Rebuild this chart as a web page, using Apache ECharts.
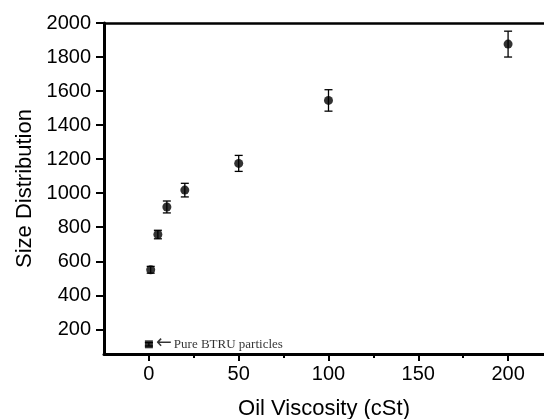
<!DOCTYPE html>
<html><head><meta charset="utf-8">
<script src="https://cdn.jsdelivr.net/npm/echarts@6/dist/echarts.min.js"></script>
<style>html,body{margin:0;padding:0;background:#fff}#c{width:544px;height:419px}</style>
</head><body><div id="c"></div>
<script>
const viscosity = [1, 5, 10, 20, 50, 100, 200];
const sizeDist = [550, 757, 919, 1018, 1175, 1545, 1876];
const sizeErr = [20, 25, 35, 40, 47, 63, 76];
const pureX = [0];
const pureY = [112];
const pureErr = [10];
const pureLabel = 'Pure BTRU particles';
const xTicks = [0, 50, 100, 150, 200];
const xMinorTicks = [25, 75, 125, 175];
const yTicks = [200, 400, 600, 800, 1000, 1200, 1400, 1600, 1800, 2000];

const chart = echarts.init(document.getElementById('c'), null, {renderer: 'canvas'});
const mainPts = viscosity.map((v, i) => [v, sizeDist[i], sizeErr[i]]);
const purePts = pureX.map((v, i) => [v, pureY[i], pureErr[i]]);
const errData = mainPts.concat(purePts);
const font = 'Liberation Sans, Arial, sans-serif';
const xmin = -25, xmax = 220, ymin = 55, ymax = 2000;
const plain = v => String(v);

chart.setOption({
  animation: false,
  grid: {left: 104, right: 0, top: 23, bottom: 65, containLabel: false, outerBoundsMode: 'none'},
  xAxis: [
    {type: 'value', min: xmin, max: xmax, position: 'bottom',
     name: 'Oil Viscosity (cSt)', nameLocation: 'middle', nameGap: 44,
     nameTextStyle: {fontFamily: font, fontSize: 22, color: '#000'},
     axisLine: {onZero: false, lineStyle: {color: '#000', width: 3}},
     axisTick: {show: true, customValues: xTicks, length: 7, inside: false, lineStyle: {color: '#000', width: 2}},
     axisLabel: {customValues: xTicks, formatter: plain, fontFamily: font, fontSize: 20, color: '#000', margin: 10},
     splitLine: {show: false}},
    {type: 'value', min: xmin, max: xmax, position: 'bottom',
     axisLine: {show: false},
     axisTick: {show: true, customValues: xMinorTicks, length: 4, lineStyle: {color: '#000', width: 2}},
     axisLabel: {show: false}, splitLine: {show: false}},
    {type: 'value', min: xmin, max: xmax, position: 'top',
     axisLine: {show: true, onZero: false, lineStyle: {color: '#000', width: 2.5}},
     axisTick: {show: false}, axisLabel: {show: false}, splitLine: {show: false}}
  ],
  yAxis: [
    {type: 'value', min: ymin, max: ymax, position: 'left',
     name: 'Size Distribution', nameLocation: 'middle', nameGap: 67,
     nameTextStyle: {fontFamily: font, fontSize: 22, color: '#000'},
     axisLine: {show: true, onZero: false, lineStyle: {color: '#000', width: 3}},
     axisTick: {show: true, customValues: yTicks, length: 8, lineStyle: {color: '#000', width: 2}},
     axisLabel: {customValues: yTicks, formatter: plain, fontFamily: font, fontSize: 20, color: '#000', margin: 13},
     splitLine: {show: false}}
  ],
  series: [
    {type: 'custom', xAxisIndex: 0, yAxisIndex: 0, data: errData, z: 3,
     renderItem: function (params, api) {
       const x = api.value(0), y = api.value(1), e = api.value(2);
       const top = api.coord([x, y + e]);
       const bot = api.coord([x, y - e]);
       const w = 4;
       const st = {stroke: '#000', lineWidth: 1.3};
       return {type: 'group', children: [
         {type: 'line', shape: {x1: top[0], y1: top[1], x2: bot[0], y2: bot[1]}, style: st},
         {type: 'line', shape: {x1: top[0] - w, y1: top[1], x2: top[0] + w, y2: top[1]}, style: st},
         {type: 'line', shape: {x1: bot[0] - w, y1: bot[1], x2: bot[0] + w, y2: bot[1]}, style: st}
       ]};
     }},
    {type: 'scatter', xAxisIndex: 0, yAxisIndex: 0, data: mainPts, symbol: 'circle', symbolSize: 9,
     itemStyle: {color: '#000'}, z: 4},
    {type: 'scatter', xAxisIndex: 0, yAxisIndex: 0, data: purePts, symbol: 'rect', symbolSize: 8,
     itemStyle: {color: '#000'}, z: 4,
     label: {show: true, position: 'right', distance: 3,
       formatter: '{a|\u2190}{t|' + pureLabel + '}',
       rich: {
         a: {fontFamily: 'DejaVu Sans, sans-serif', fontSize: 19, color: '#000', padding: [0, 2, 2, 0]},
         t: {fontFamily: 'Liberation Serif, Times New Roman, serif', fontSize: 13, color: '#000'}
       }}}
  ]
});
</script></body></html>
